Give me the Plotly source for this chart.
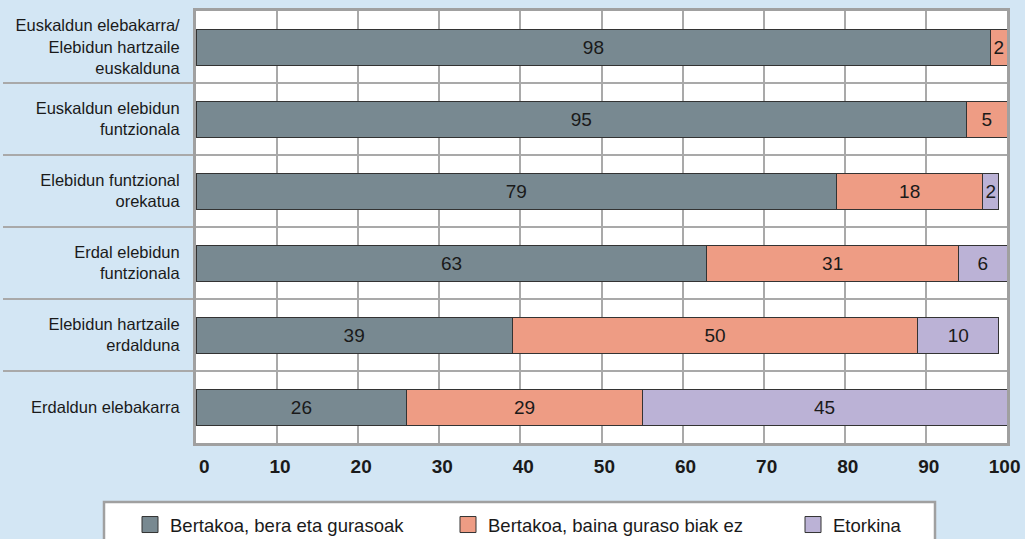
import plotly.graph_objects as go

categories = [
    "Euskaldun elebakarra/<br>Elebidun hartzaile<br>euskalduna",
    "Euskaldun elebidun<br>funtzionala",
    "Elebidun funtzional<br>orekatua",
    "Erdal elebidun<br>funtzionala",
    "Elebidun hartzaile<br>erdalduna",
    "Erdaldun elebakarra",
]
series_names = [
    "Bertakoa, bera eta gurasoak",
    "Bertakoa, baina guraso biak ez",
    "Etorkina",
]
bertakoa_biak = [98, 95, 79, 63, 39, 26]
bertakoa_ez = [2, 5, 18, 31, 50, 29]
etorkina = [0, 0, 2, 6, 10, 45]
x_ticks = [0, 10, 20, 30, 40, 50, 60, 70, 80, 90, 100]

colors = ["#788991", "#ee9c84", "#bbb2d6"]
series_values = [bertakoa_biak, bertakoa_ez, etorkina]
legend_widths = [273, 300, 100]

FONT = "Liberation Sans, Arial, sans-serif"
ypos = list(range(len(categories)))

fig = go.Figure()
for name, vals, col in zip(series_names, series_values, colors):
    xs = [v if v > 0 else None for v in vals]
    fig.add_trace(go.Bar(
        y=ypos, x=xs, orientation="h", name=name,
        marker=dict(color=col, line=dict(color="#333333", width=1)),
        width=0.5,
        text=[str(v) if v > 0 else "" for v in vals],
        textposition="inside", insidetextanchor="middle", textangle=0,
        constraintext="none",
        textfont=dict(family=FONT, size=19, color="#1a1a1a"),
        showlegend=False, hoverinfo="x+name",
    ))

# legend entries (larger square symbols)
for name, col, lw in zip(series_names, colors, legend_widths):
    fig.add_trace(go.Scatter(
        x=[None], y=[None], mode="markers", name=name,
        marker=dict(symbol="square", size=16, color=col,
                    line=dict(color="#333333", width=1)),
        legendwidth=lw, showlegend=True,
    ))

W, H = 1025, 539
ml, mr, mt, mb = 196, 18, 11, 96
pw, ph = W - ml - mr, H - mt - mb

def px2x(px):
    return (px - ml) / pw

def py2y(py):
    return (H - mb - py) / ph

fig.add_shape(type="rect", xref="paper", yref="paper",
              x0=px2x(104), x1=px2x(935), y0=py2y(502), y1=py2y(560),
              fillcolor="white", line=dict(color="#a0a0a0", width=2.5),
              layer="above")

fig.update_layout(
    width=W, height=H,
    margin=dict(l=ml, r=mr, t=mt, b=mb, pad=0, autoexpand=False),
    paper_bgcolor="#d3e6f4", plot_bgcolor="white",
    barmode="stack", bargap=0.5,
    font=dict(family=FONT, color="#1a1a1a"),
    showlegend=True,
    legend=dict(orientation="h", x=px2x(130), xanchor="left",
                y=py2y(525), yanchor="middle",
                bgcolor="rgba(0,0,0,0)", borderwidth=0,
                font=dict(family=FONT, size=18.5, color="#1a1a1a"),
                traceorder="normal"),
    xaxis=dict(range=[0, 100], tickvals=x_ticks,
               showgrid=True, gridcolor="#a9a9a9", gridwidth=1.5,
               showline=True, linecolor="#a0a0a0", linewidth=3, mirror=True,
               ticks="", ticklabelposition="outside left",
               ticklabelshift=15, ticklabelstandoff=4,
               ticklabeloverflow="allow",
               tickfont=dict(family=FONT, size=19, color="#1a1a1a", weight="bold"),
               zeroline=False, fixedrange=True),
    yaxis=dict(range=[len(categories) - 0.5, -0.5],
               tickvals=ypos, ticktext=categories,
               showgrid=False, zeroline=False,
               showline=True, linecolor="#a0a0a0", linewidth=3, mirror=True,
               ticks="", ticklabelstandoff=10,
               tickfont=dict(family=FONT, size=16.5, color="#1a1a1a"),
               minor=dict(tickvals=[i + 0.5 for i in range(len(categories) - 1)],
                          showgrid=True, gridcolor="#a9a9a9", gridwidth=1.5,
                          ticks="outside", ticklen=190, tickcolor="#a9a9a9",
                          tickwidth=1.5),
               fixedrange=True),
)

fig.write_html(
    "out.html",
    config={"displayModeBar": False},
    post_script="document.body.style.margin='0';document.body.style.overflow='hidden';",
)
